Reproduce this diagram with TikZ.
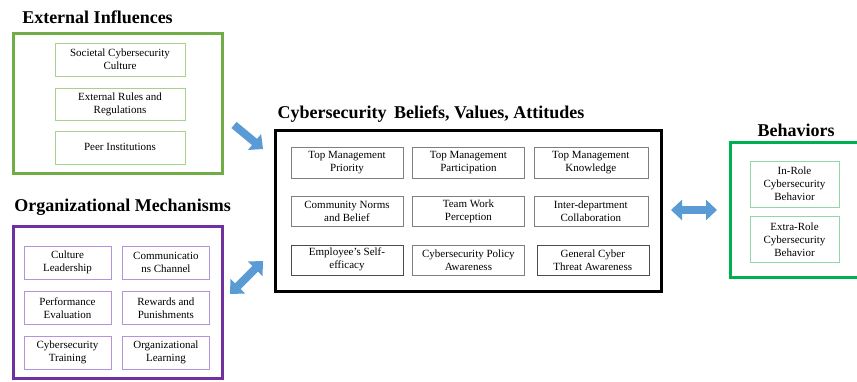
\documentclass[tikz,border=0pt]{standalone}
\usepackage{fontspec}
\setmainfont{Liberation Serif}[Ligatures=TeX]
\usepackage{xcolor}
\usetikzlibrary{arrows.meta}
\usetikzlibrary{positioning}

\definecolor{extgreen}{HTML}{70AD47}
\definecolor{extlight}{HTML}{A9D18E}
\definecolor{orgpurple}{HTML}{7030A0}
\definecolor{orglight}{HTML}{B592DA}
\definecolor{behgreen}{HTML}{00B050}
\definecolor{behlight}{HTML}{8ED9A6}
\definecolor{itemgrey}{HTML}{7F7F7F}
\definecolor{arrowblue}{HTML}{5B9BD5}

\tikzstyle{heading} = [font=\rmfamily\fontsize{18}{20}\selectfont\bfseries, inner sep=0pt]
\tikzstyle{frame} = [rectangle, line width=3pt, inner sep=0pt]
\tikzstyle{item} = [rectangle, draw, align=center, inner sep=1pt, font=\rmfamily\fontsize{11}{13}\selectfont]
\tikzstyle{bluearrow} = [line width=8pt, arrowblue, -{Triangle[length=11pt,width=20pt]}]
\tikzstyle{bluedouble} = [line width=8pt, arrowblue, {Triangle[length=11pt,width=20pt]}-{Triangle[length=11pt,width=20pt]}]

\begin{document}
\begin{tikzpicture}[x=1pt, y=-1pt, node distance=12pt]
  \useasboundingbox (0,0) rectangle (857,381);

  % outer frames
  \node[frame, draw=extgreen, minimum width=209pt, minimum height=140pt] (ext) at (117.5,103) {};
  \node[frame, draw=orgpurple, minimum width=209pt, minimum height=152pt] (org) at (117.5,302) {};
  \node[frame, draw=black, minimum width=386pt, minimum height=161pt] (bel) at (468,210.5) {};
  \node[frame, draw=behgreen, minimum width=132pt, minimum height=135pt] (beh) at (796,209.5) {};

  % headings
  \node[heading, above=8pt of ext.north, xshift=-20pt] (exttitle) {External Influences};
  \node[heading, above=9pt of org.north, xshift=5pt] (orgtitle) {Organizational Mechanisms};
  \node[heading, above=6pt of bel.north, xshift=-37pt] (beltitle) {Cybersecurity\, Beliefs, Values, Attitudes};
  \node[heading, above=4pt of beh.north, xshift=0pt] (behtitle) {Behaviors};

  % external influences
  \node[item, draw=extlight, minimum width=130pt, minimum height=33pt] (soc) at (120,59.5) {Societal Cybersecurity\\Culture};
  \node[item, draw=extlight, minimum width=130pt, minimum height=32pt, below=of soc] (rules) {External Rules and\\Regulations};
  \node[item, draw=extlight, minimum width=130pt, minimum height=33pt, below=10pt of rules] (peer) {Peer Institutions};

  % organizational mechanisms
  \node[item, draw=orglight, minimum width=87pt, minimum height=33pt] (cult) at (67.5,262.5) {Culture\\Leadership};
  \node[item, draw=orglight, minimum width=87pt, minimum height=33pt, right=11pt of cult] (comm) {Communicatio\\ns Channel};
  \node[item, draw=orglight, minimum width=87pt, minimum height=33pt, below=of cult] (perf) {Performance\\Evaluation};
  \node[item, draw=orglight, minimum width=87pt, minimum height=33pt, below=of comm] (rew) {Rewards and\\Punishments};
  \node[item, draw=orglight, minimum width=87pt, minimum height=33pt, below=11pt of perf] (train) {Cybersecurity\\Training};
  \node[item, draw=orglight, minimum width=87pt, minimum height=33pt, below=11pt of rew] (learn) {Organizational\\Learning};

  % beliefs, values, attitudes
  \node[item, draw=itemgrey, minimum width=112pt, minimum height=31pt] (prio) at (347,162.5) {Top Management\\Priority};
  \node[item, draw=itemgrey, minimum width=112pt, minimum height=31pt, right=9pt of prio] (part) {Top Management\\Participation};
  \node[item, draw=itemgrey, minimum width=114pt, minimum height=31pt, right=9pt of part] (know) {Top Management\\Knowledge};
  \node[item, draw=itemgrey, minimum width=112pt, minimum height=30pt, below=18pt of prio] (norms) {Community Norms\\and Belief};
  \node[item, draw=itemgrey, minimum width=112pt, minimum height=30pt, below=18pt of part] (team) {Team Work\\Perception};
  \node[item, draw=itemgrey, minimum width=114pt, minimum height=30pt, below=18pt of know] (inter) {Inter-department\\Collaboration};
  \node[item, draw=black!70, minimum width=112pt, minimum height=30pt, below=18pt of norms] (self) {Employee's Self-\\efficacy};
  \node[item, draw=itemgrey, minimum width=112pt, minimum height=30pt, below=18pt of team] (policy) {Cybersecurity Policy\\Awareness};
  \node[item, draw=black!70, minimum width=112pt, minimum height=30pt, below=18pt of inter, xshift=2pt] (threat) {General Cyber\\Threat Awareness};

  % behaviors
  \node[item, draw=behlight, minimum width=89pt, minimum height=46pt] (inrole) at (794.5,184) {In-Role\\Cybersecurity\\Behavior};
  \node[item, draw=behlight, minimum width=89pt, minimum height=46pt, below=9pt of inrole] (extrarole) {Extra-Role\\Cybersecurity\\Behavior};

  % block arrows
  \coordinate (a1s) at (234,125);
  \coordinate (a1e) at (263,149);
  \coordinate (a2s) at (230,294);
  \coordinate (a2e) at (263,261);
  \coordinate (a3s) at (671,210);
  \coordinate (a3e) at (717,210);
  \draw[bluearrow] (a1s) -- (a1e);
  \draw[bluedouble] (a2s) -- (a2e);
  \draw[bluedouble] (a3s) -- (a3e);
\end{tikzpicture}
\end{document}
